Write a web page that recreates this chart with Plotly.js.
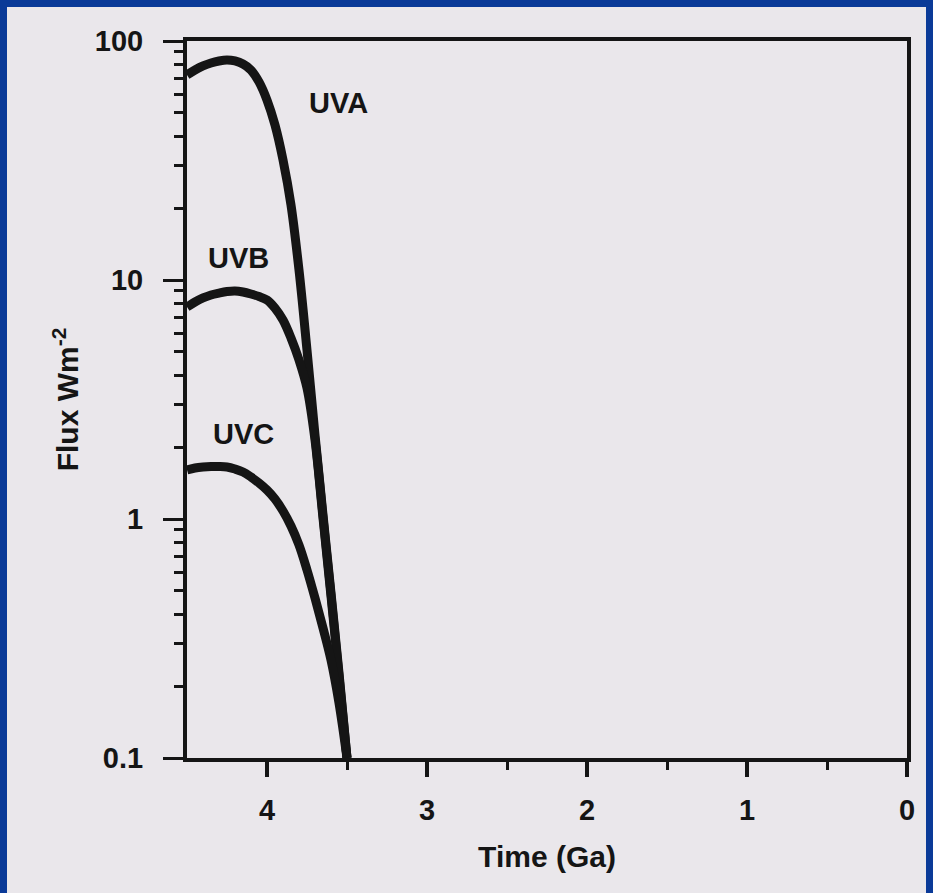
<!DOCTYPE html>
<html>
<head>
<meta charset="utf-8">
<script src="https://cdn.plot.ly/plotly-3.0.1.min.js"></script>
<style>
  html, body { margin: 0; padding: 0; background: #0a3a98; width: 933px; height: 893px; overflow: hidden; }
  #chart { position: absolute; left: 7px; top: 7px; width: 919px; height: 886px; }
</style>
</head>
<body>
<div id="chart"></div>
<script>
// Time before present (Ga)
const time = [4.5, 4.45, 4.4, 4.35, 4.3, 4.25, 4.2, 4.15, 4.1, 4.05, 4.0, 3.95, 3.9, 3.85, 3.8, 3.75, 3.7, 3.65, 3.6, 3.55, 3.5];
// Surface UV flux (W m^-2)
const uva = [72.1, 75.6, 78.6, 80.9, 82.5, 83.3, 82.5, 80.1, 75.6, 67.4, 56.6, 44.5, 31.8, 20.6, 11.0, 5.09, 2.25, 1.04, 0.49, 0.227, 0.1];
const uvb = [7.71, 8.09, 8.41, 8.66, 8.82, 8.95, 9.0, 8.91, 8.74, 8.53, 8.25, 7.63, 6.80, 5.72, 4.63, 3.53, 2.14, 1.01, 0.476, 0.220, 0.1];
const uvc = [1.603, 1.634, 1.650, 1.658, 1.658, 1.650, 1.618, 1.573, 1.498, 1.414, 1.322, 1.212, 1.080, 0.935, 0.778, 0.612, 0.467, 0.350, 0.257, 0.170, 0.1];
const seriesNames = ['UVA', 'UVB', 'UVC'];

const xTickVals = [4, 3, 2, 1, 0];
const xTickText = ['4', '3', '2', '1', '0'];
const xMinorVals = [3.5, 2.5, 1.5, 0.5];
const yTickVals = [0.1, 1, 10, 100];
const yTickText = ['0.1', '1', '10', '100'];
const yMinorVals = [0.2, 0.3, 0.4, 0.5, 0.6, 0.7, 0.8, 0.9, 2, 3, 4, 5, 6, 7, 8, 9, 20, 30, 40, 50, 60, 70, 80, 90];

const ink = '#151515';
const fontFam = 'Liberation Sans, Arial, Helvetica, sans-serif';

const series = [uva, uvb, uvc];
const traces = series.map((vals, i) => ({
  x: time,
  y: vals,
  name: seriesNames[i],
  type: 'scatter',
  mode: 'lines',
  line: { color: ink, width: 9, shape: 'spline', smoothing: 1.0 },
  hoverinfo: 'x+y+name'
}));

const labelPos = [
  { x: 3.556, y: Math.log10(55) },
  { x: 4.18, y: Math.log10(12.4) },
  { x: 4.15, y: Math.log10(2.27) }
];
const annotations = seriesNames.map((n, i) => ({
  x: labelPos[i].x, y: labelPos[i].y, xref: 'x', yref: 'y',
  text: n, showarrow: false,
  font: { family: fontFam, size: 29, color: ink, weight: 'bold' },
  xanchor: 'center', yanchor: 'middle'
}));

const layout = {
  width: 919, height: 886,
  paper_bgcolor: '#eae7eb',
  plot_bgcolor: 'rgba(0,0,0,0)',
  margin: { l: 180, r: 19, t: 34, b: 135 },
  showlegend: false,
  xaxis: {
    range: [4.5, 0],
    tickmode: 'array', tickvals: xTickVals, ticktext: xTickText,
    ticks: 'outside', ticklen: 15, tickwidth: 4, tickcolor: ink,
    minor: { tickmode: 'array', tickvals: xMinorVals, ticks: 'outside', ticklen: 8, tickwidth: 3, tickcolor: ink },
    showline: true, linecolor: ink, linewidth: 4, mirror: true,
    showgrid: false, zeroline: false,
    tickfont: { family: fontFam, size: 29, color: ink, weight: 'bold' },
    ticklabelstandoff: 8,
    title: { text: 'Time (Ga)', standoff: 22, font: { family: fontFam, size: 30, color: ink, weight: 'bold' } }
  },
  yaxis: {
    type: 'log',
    range: [-1, 2],
    tickmode: 'array', tickvals: yTickVals, ticktext: yTickText,
    ticks: 'outside', ticklen: 20, tickwidth: 3, tickcolor: ink,
    minor: { tickmode: 'array', tickvals: yMinorVals, ticks: 'outside', ticklen: 9, tickwidth: 3, tickcolor: ink },
    showline: true, linecolor: ink, linewidth: 4, mirror: true,
    showgrid: false, zeroline: false,
    tickfont: { family: fontFam, size: 29, color: ink, weight: 'bold' },
    ticklabelstandoff: 14,
    title: { text: 'Flux Wm<sup>-2</sup>', standoff: 8, font: { family: fontFam, size: 30, color: ink, weight: 'bold' } }
  },
  annotations: annotations
};

Plotly.newPlot('chart', traces, layout, { displayModeBar: false, staticPlot: true });
</script>
</body>
</html>
